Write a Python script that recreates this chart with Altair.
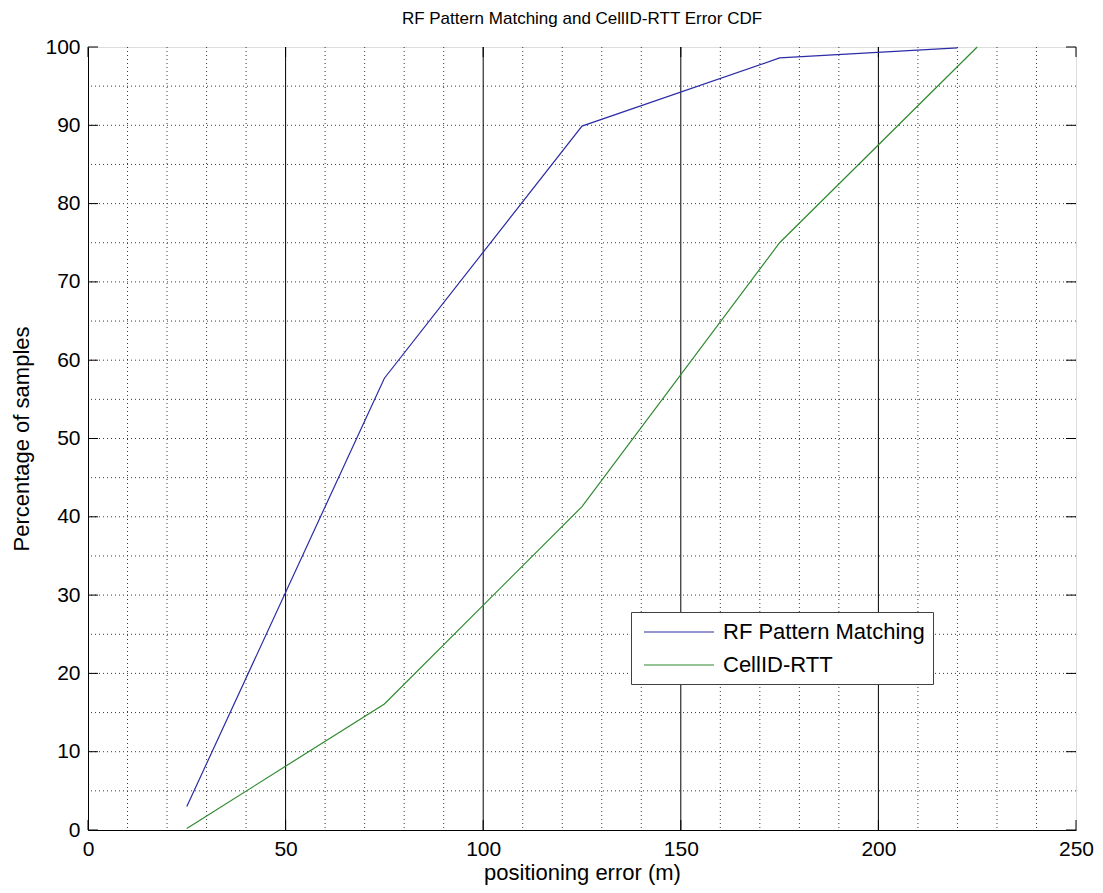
import altair as alt
import pandas as pd

# ---- data ----
err_rf = [25, 75, 125, 175, 220]
pct_rf = [3.0, 57.7, 89.9, 98.6, 99.9]
err_cell = [25, 75, 125, 175, 225]
pct_cell = [0.2, 16.1, 41.3, 75.0, 100.0]
series_names = ["RF Pattern Matching", "CellID-RTT"]
series_colors = ["#2c2ca6", "#2f8a2f"]

x_ticks = [0, 50, 100, 150, 200, 250]
y_ticks = [0, 10, 20, 30, 40, 50, 60, 70, 80, 90, 100]
x_minor = [v for v in range(10, 250, 10) if v % 50 != 0]
x_major_inner = [50, 100, 150, 200]
y_minor = list(range(5, 100, 5))

W, H = 988, 783
FONT = "Liberation Sans"

lines_df = pd.DataFrame(
    {"err": err_rf + err_cell,
     "pct": pct_rf + pct_cell,
     "series": [series_names[0]] * len(err_rf) + [series_names[1]] * len(err_cell),
     "order": list(range(len(err_rf))) + list(range(len(err_cell)))}
)

xs = alt.Scale(domain=[0, 250], nice=False, zero=False)
ys = alt.Scale(domain=[0, 100], nice=False, zero=False)

x_axis = alt.Axis(values=x_ticks, ticks=False, grid=False, labelPadding=8,
                  labelFontSize=21, labelColor="black", labelFont=FONT, labelFlush=False,
                  title="positioning error (m)", titleFontSize=22, titleFont=FONT,
                  titleFontWeight="normal", titleColor="black", titlePadding=3,
                  domainColor="black", format="d")
y_axis = alt.Axis(values=y_ticks, ticks=False, grid=False, labelPadding=8,
                  labelFontSize=21, labelColor="black", labelFont=FONT, labelFlush=False,
                  title="Percentage of samples", titleFontSize=22, titleFont=FONT,
                  titleFontWeight="normal", titleColor="black", titlePadding=11,
                  domainColor="black", format="d")

vminor = alt.Chart(pd.DataFrame({"x": x_minor})).mark_rule(
    color="#3a3a3a", strokeWidth=1, strokeDash=[1, 3]
).encode(x=alt.X("x:Q", scale=xs, axis=x_axis))

hminor = alt.Chart(pd.DataFrame({"y": y_minor})).mark_rule(
    color="#3a3a3a", strokeWidth=1, strokeDash=[1, 3]
).encode(y=alt.Y("y:Q", scale=ys, axis=y_axis))

vmajor = alt.Chart(pd.DataFrame({"x": x_major_inner})).mark_rule(
    color="black", strokeWidth=1
).encode(x=alt.X("x:Q", scale=xs))

ytick_df = pd.DataFrame({"y": y_ticks})
xtick_df = pd.DataFrame({"x": x_ticks})
tick_left = alt.Chart(ytick_df).mark_rule(color="black").encode(
    y=alt.Y("y:Q", scale=ys), x=alt.value(0), x2=alt.value(10))
tick_right = alt.Chart(ytick_df).mark_rule(color="black").encode(
    y=alt.Y("y:Q", scale=ys), x=alt.value(W), x2=alt.value(W - 10))
tick_bottom = alt.Chart(xtick_df).mark_rule(color="black").encode(
    x=alt.X("x:Q", scale=xs), y=alt.value(H), y2=alt.value(H - 10))
tick_top = alt.Chart(xtick_df).mark_rule(color="black").encode(
    x=alt.X("x:Q", scale=xs), y=alt.value(0), y2=alt.value(10))

lines = alt.Chart(lines_df).mark_line(strokeWidth=1.2).encode(
    x=alt.X("err:Q", scale=xs),
    y=alt.Y("pct:Q", scale=ys),
    order="order:Q",
    color=alt.Color(
        "series:N",
        scale=alt.Scale(domain=series_names, range=series_colors),
        legend=alt.Legend(
            title=None, orient="none", legendX=543, legendY=565,
            padding=8, fillColor="white", strokeColor="#404040",
            labelFontSize=22, labelFont=FONT, labelColor="black",
            symbolType="M-0.64,0H5.73", symbolSize=484, symbolStrokeWidth=1.2,
            labelOffset=60, rowPadding=10, labelLimit=400,
        ),
    ),
)

chart = alt.layer(
    vminor, hminor, vmajor, tick_left, tick_right, tick_bottom, tick_top, lines
).properties(
    width=W, height=H,
    title=alt.TitleParams(
        "RF Pattern Matching and CellID-RTT Error CDF",
        fontSize=17, font=FONT, fontWeight="normal", color="black",
        anchor="middle", offset=8,
    ),
    autosize=alt.AutoSizeParams(type="none"),
    padding={"left": 80, "top": 39, "right": 19, "bottom": 55},
).configure_view(stroke="black", strokeWidth=1).configure(background="white")

chart.save("out.html", embed_options={"renderer": "svg", "actions": False})
